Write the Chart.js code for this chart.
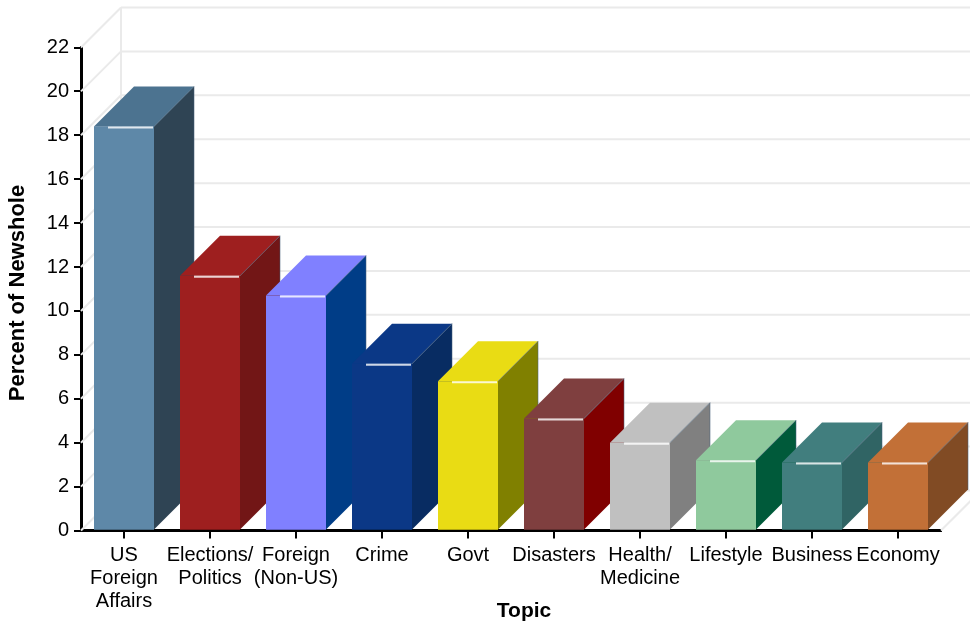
<!DOCTYPE html>
<html><head><meta charset="utf-8">
<script src="https://cdn.jsdelivr.net/npm/chart.js@4.4.1/dist/chart.umd.min.js"></script>
<style>html,body{margin:0;padding:0;background:#fff;overflow:hidden;}</style>
</head><body>
<canvas id="c" width="970" height="629"></canvas>
<script>
const categories = [["US","Foreign","Affairs"],["Elections/","Politics"],["Foreign","(Non-US)"],"Crime","Govt","Disasters",["Health/","Medicine"],"Lifestyle","Business","Economy"];
const values = [18.4, 11.6, 10.7, 7.6, 6.8, 5.1, 4.0, 3.2, 3.1, 3.1];
const yTicks = [0, 2, 4, 6, 8, 10, 12, 14, 16, 18, 20, 22];
const frontColors = ["#5E88A8","#9E1F1F","#8080FF","#0B3886","#E9DC14","#7F3F3F","#C0C0C0","#8FC99D","#417E7E","#C27037"];
const topColors   = ["#4C7390","#9E1F1F","#8080FF","#0B3886","#E9DC14","#7F3F3F","#C0C0C0","#8FC99D","#417E7E","#C27037"];
const sideColors  = ["#2F4454","#721616","#003D87","#082C62","#808000","#800000","#808080","#005A3A","#306464","#814B24"];
const yTitle = "Percent of Newshole";
const xTitle = "Topic";

const DEPTH = 40;
const FONT = "'Liberation Sans', Arial, sans-serif";

const bgPlugin = {
  id: 'bg',
  beforeDraw(chart) {
    const ctx = chart.ctx;
    ctx.save(); ctx.fillStyle = '#fff'; ctx.fillRect(0, 0, chart.width, chart.height); ctx.restore();
  }
};

function line(ctx, x1, y1, x2, y2) { ctx.beginPath(); ctx.moveTo(x1, y1); ctx.lineTo(x2, y2); ctx.stroke(); }
function poly(ctx, pts, color) {
  ctx.beginPath(); ctx.moveTo(pts[0][0], pts[0][1]);
  for (let i = 1; i < pts.length; i++) ctx.lineTo(pts[i][0], pts[i][1]);
  ctx.closePath(); ctx.fillStyle = color; ctx.fill();
}

const wallPlugin = {
  id: 'wall',
  beforeDatasetsDraw(chart) {
    const ctx = chart.ctx, ys = chart.scales.y;
    const L = chart.chartArea.left, R = chart.chartArea.right;
    ctx.save();
    ctx.strokeStyle = '#EAEAEA'; ctx.lineWidth = 2;
    yTicks.forEach(v => {
      const py = ys.getPixelForValue(v);
      line(ctx, L, py, L + DEPTH, py - DEPTH);
      line(ctx, L + DEPTH, py - DEPTH, chart.width, py - DEPTH);
    });
    line(ctx, L + DEPTH, ys.getPixelForValue(0) - DEPTH, L + DEPTH, ys.getPixelForValue(yTicks[yTicks.length - 1]) - DEPTH);
    line(ctx, R, ys.getPixelForValue(0), R + DEPTH, ys.getPixelForValue(0) - DEPTH);
    ctx.restore();
  },
  afterDatasetsDraw(chart) {
    const ctx = chart.ctx;
    const meta = chart.getDatasetMeta(0);
    ctx.save();
    meta.data.forEach((bar, i) => {
      const p = bar.getProps(['x', 'y', 'base', 'width'], true);
      const l = p.x - p.width / 2, r = p.x + p.width / 2, t = p.y, b = p.base;
      poly(ctx, [[r, t], [r + DEPTH, t - DEPTH], [r + DEPTH, b - DEPTH], [r, b]], sideColors[i]);
      poly(ctx, [[l, t], [l + DEPTH, t - DEPTH], [r + DEPTH, t - DEPTH], [r, t]], topColors[i]);
      ctx.fillStyle = frontColors[i];
      ctx.fillRect(l, t, p.width, b - t);
      ctx.strokeStyle = 'rgba(70,95,120,0.55)'; ctx.lineWidth = 1;
      ctx.beginPath(); ctx.moveTo(r, t); ctx.lineTo(r + DEPTH, t - DEPTH); ctx.lineTo(r + DEPTH, b - DEPTH); ctx.stroke();
      ctx.strokeStyle = 'rgba(255,255,255,0.8)'; ctx.lineWidth = 2;
      line(ctx, l + 14, t + 1, r - 1, t + 1);
    });
    ctx.restore();
  },
  afterDraw(chart) {
    const ctx = chart.ctx;
    ctx.save();
    ctx.fillStyle = '#000';
    ctx.font = "bold 21px " + FONT;
    ctx.textAlign = 'center'; ctx.textBaseline = 'middle';
    ctx.fillText(xTitle, 524, 611);
    ctx.translate(18, 293);
    ctx.rotate(-Math.PI / 2);
    ctx.font = "bold 22px " + FONT;
    ctx.fillText(yTitle, 0, 0);
    ctx.restore();
  }
};

new Chart(document.getElementById('c'), {
  type: 'bar',
  data: {
    labels: categories,
    datasets: [{
      data: values,
      backgroundColor: frontColors,
      borderWidth: 0,
      barPercentage: 60 / 86,
      categoryPercentage: 1
    }]
  },
  options: {
    responsive: false,
    animation: false,
    devicePixelRatio: 1,
    layout: { padding: { top: 47.5, right: 29, left: 0, bottom: 0 } },
    plugins: { legend: { display: false }, tooltip: { enabled: false } },
    scales: {
      x: {
        z: 1,
        grid: { offset: false, drawOnChartArea: false, drawTicks: true, tickLength: 8, color: '#000', lineWidth: 2 },
        border: { display: true, color: '#000', width: 3 },
        ticks: { autoSkip: false, maxRotation: 0, minRotation: 0, padding: 5, color: '#000',
                 font: { family: FONT, size: 20, lineHeight: '23px' } },
        afterFit(scale) { scale.height = 98.5; }
      },
      y: {
        z: 1,
        min: 0, max: 22,
        grid: { drawOnChartArea: false, drawTicks: true, tickLength: 7, color: '#000', lineWidth: 2 },
        border: { display: true, color: '#000', width: 3 },
        ticks: { stepSize: 2, padding: 5, color: '#000', font: { family: FONT, size: 20 } },
        afterFit(scale) { scale.width = 81; }
      }
    }
  },
  plugins: [bgPlugin, wallPlugin]
});
</script>
</body></html>
